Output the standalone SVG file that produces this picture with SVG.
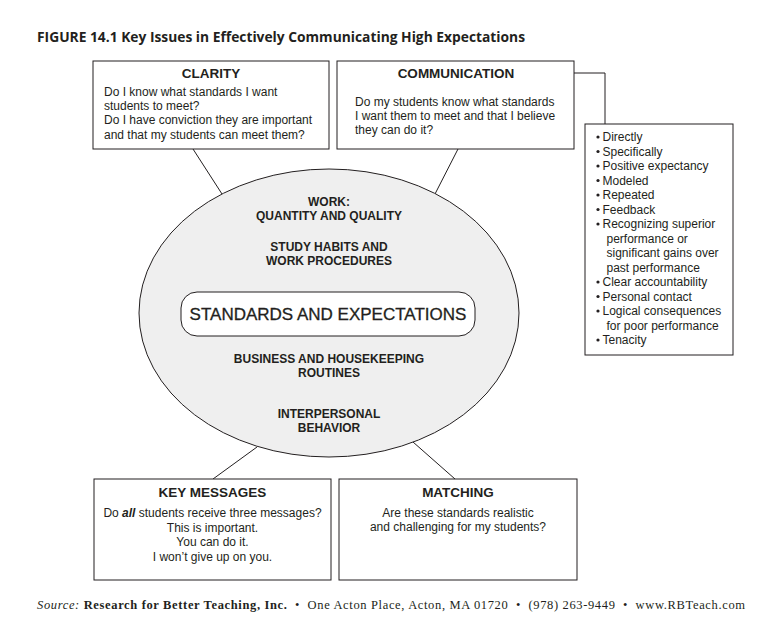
<svg xmlns="http://www.w3.org/2000/svg" width="782" height="641" viewBox="0 0 782 641">
<style>
  .box { fill: #ffffff; stroke: #231f20; stroke-width: 1; }
  .line { fill: none; stroke: #231f20; stroke-width: 1; }
  .hdr { font-family: "Liberation Sans", Arial, sans-serif; font-weight: bold; font-size: 13.5px; fill: #231f20; text-anchor: middle; }
  .body { font-family: "Liberation Sans", Arial, sans-serif; font-size: 12px; fill: #231f20; }
  .mid { text-anchor: middle; }
  .ell { font-family: "Liberation Sans", Arial, sans-serif; font-weight: bold; font-size: 12px; fill: #231f20; text-anchor: middle; }
</style>
<rect x="0" y="0" width="782" height="641" fill="#ffffff"/>
<text x="37" y="42" font-family="Open Sans, Liberation Sans, sans-serif" font-weight="bold" font-size="13.5" fill="#231f20" textLength="488" lengthAdjust="spacingAndGlyphs">FIGURE 14.1 Key Issues in Effectively Communicating High Expectations</text>

<g id="connectors">
  <polyline class="line" points="574,73 605,73 605,124"/>
  <line class="line" x1="193" y1="149" x2="222" y2="194"/>
  <line class="line" x1="458" y1="149" x2="435" y2="194"/>
  <line class="line" x1="257" y1="447" x2="213" y2="479"/>
  <line class="line" x1="413" y1="442" x2="455" y2="479"/>
</g>

<g id="clarity">
  <rect class="box" x="93" y="61" width="236" height="88"/>
  <text class="hdr" x="211" y="78">CLARITY</text>
  <text class="body" x="104" y="95.5">Do I know what standards I want</text>
  <text class="body" x="104" y="109.5">students to meet?</text>
  <text class="body" x="104" y="124">Do I have conviction they are important</text>
  <text class="body" x="104" y="138.5">and that my students can meet them?</text>
</g>

<g id="communication">
  <rect class="box" x="337" y="61" width="237" height="88"/>
  <text class="hdr" x="456" y="78">COMMUNICATION</text>
  <text class="body" x="355" y="105.5">Do my students know what standards</text>
  <text class="body" x="355" y="119.5">I want them to meet and that I believe</text>
  <text class="body" x="355" y="133.5">they can do it?</text>
</g>

<g id="methods">
  <rect class="box" x="585" y="124" width="148" height="231"/>
  <g fill="#231f20">
    <circle cx="598" cy="137" r="1.6"/>
    <circle cx="598" cy="151.5" r="1.6"/>
    <circle cx="598" cy="166" r="1.6"/>
    <circle cx="598" cy="180.5" r="1.6"/>
    <circle cx="598" cy="195" r="1.6"/>
    <circle cx="598" cy="209.5" r="1.6"/>
    <circle cx="598" cy="224" r="1.6"/>
    <circle cx="598" cy="282" r="1.6"/>
    <circle cx="598" cy="296.5" r="1.6"/>
    <circle cx="598" cy="311" r="1.6"/>
    <circle cx="598" cy="340" r="1.6"/>
  </g>
  <text class="body" x="602.5" y="141">Directly</text>
  <text class="body" x="602.5" y="155.5">Specifically</text>
  <text class="body" x="602.5" y="170">Positive expectancy</text>
  <text class="body" x="602.5" y="184.5">Modeled</text>
  <text class="body" x="602.5" y="199">Repeated</text>
  <text class="body" x="602.5" y="213.5">Feedback</text>
  <text class="body" x="602.5" y="228">Recognizing superior</text>
  <text class="body" x="606.5" y="242.5">performance or</text>
  <text class="body" x="606.5" y="257">significant gains over</text>
  <text class="body" x="606.5" y="271.5">past performance</text>
  <text class="body" x="602.5" y="286">Clear accountability</text>
  <text class="body" x="602.5" y="300.5">Personal contact</text>
  <text class="body" x="602.5" y="315">Logical consequences</text>
  <text class="body" x="606.5" y="329.5">for poor performance</text>
  <text class="body" x="602.5" y="344">Tenacity</text>
</g>

<g id="standards">
  <ellipse cx="329" cy="313" rx="190" ry="144" fill="#efefef" stroke="#231f20" stroke-width="1"/>
  <text class="ell" x="329" y="206">WORK:</text>
  <text class="ell" x="329" y="219.5">QUANTITY AND QUALITY</text>
  <text class="ell" x="329" y="251">STUDY HABITS AND</text>
  <text class="ell" x="329" y="265">WORK PROCEDURES</text>
  <rect x="181" y="292" width="294" height="44" rx="16" ry="16" fill="#ffffff" stroke="#231f20" stroke-width="1"/>
  <text x="328" y="320" font-family="Liberation Sans, Arial, sans-serif" font-size="17" fill="#231f20" stroke="#231f20" stroke-width="0.3" text-anchor="middle">STANDARDS AND EXPECTATIONS</text>
  <text class="ell" x="329" y="363">BUSINESS AND HOUSEKEEPING</text>
  <text class="ell" x="329" y="377">ROUTINES</text>
  <text class="ell" x="329" y="418">INTERPERSONAL</text>
  <text class="ell" x="329" y="432">BEHAVIOR</text>
</g>

<g id="key-messages">
  <rect class="box" x="94" y="479" width="237" height="101"/>
  <text class="hdr" x="212.5" y="497">KEY MESSAGES</text>
  <text class="body mid" x="212.5" y="517">Do <tspan font-weight="bold" font-style="italic">all</tspan> students receive three messages?</text>
  <text class="body mid" x="212.5" y="531.5">This is important.</text>
  <text class="body mid" x="212.5" y="546">You can do it.</text>
  <text class="body mid" x="212.5" y="560.5">I won’t give up on you.</text>
</g>

<g id="matching">
  <rect class="box" x="339" y="479" width="238" height="101"/>
  <text class="hdr" x="458" y="497">MATCHING</text>
  <text class="body mid" x="458" y="516.5">Are these standards realistic</text>
  <text class="body mid" x="458" y="530.5">and challenging for my students?</text>
</g>

<text x="37" y="609" xml:space="preserve" font-family="Liberation Serif, Times New Roman, serif" font-size="12.5" fill="#231f20" textLength="708" lengthAdjust="spacing"><tspan font-style="italic">Source:</tspan> <tspan font-weight="bold">Research for Better Teaching, Inc.</tspan>  •  One Acton Place, Acton, MA 01720  •  (978) 263-9449  •  www.RBTeach.com</text>
</svg>
